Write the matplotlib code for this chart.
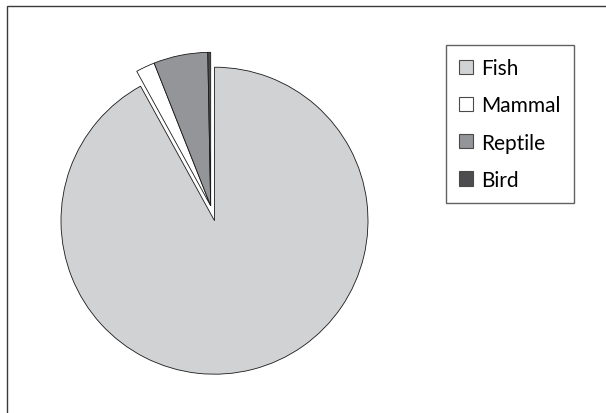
import numpy as np
import matplotlib
matplotlib.use('Agg')
import matplotlib.pyplot as plt
from matplotlib.patches import Rectangle


labels = ['Fish', 'Mammal', 'Reptile', 'Bird']
shares = [92.0, 2.0, 5.7, 0.3]
colors = ['#d1d2d4', '#ffffff', '#939598', '#4d4d4f']
# the three small classes are pulled out together, as one group
grouped = ['Mammal', 'Reptile', 'Bird']
group_explode = 0.1

plt.rcParams['font.family'] = ['Lato', 'DejaVu Sans']

fig = plt.figure(figsize=(6.06, 4.14), dpi=100)

# outer frame, only top and left edges fall inside the picture
fig.patches.append(Rectangle((7 / 606, -0.2), 1.2, 1 - 7 / 414 + 0.2,
                             transform=fig.transFigure, fill=False,
                             edgecolor='#3a3a3a', linewidth=1.0))

ax = fig.add_axes([61 / 606, 38.8 / 414, 307 / 606, 307 / 414])
wedges, _ = ax.pie(shares, colors=colors, startangle=90, counterclock=False,
                   radius=1.0,
                   wedgeprops=dict(edgecolor='#1a1a1a', linewidth=0.6))
ax.set_xlim(-1, 1)
ax.set_ylim(-1, 1)
ax.axis('off')

# shift the small wedges along the bisector of the whole group
small = sum(s for l, s in zip(labels, shares) if l in grouped)
mid = np.deg2rad(90 + small / sum(shares) * 360 / 2)
dx, dy = group_explode * np.cos(mid), group_explode * np.sin(mid)
for w, l in zip(wedges, labels):
    w.set_clip_on(False)
    if l in grouped:
        w.set_center((dx, dy))

handles = [Rectangle((0, 0), 1, 1, facecolor=c, edgecolor='#4a4a4a', linewidth=0.8)
           for c in colors]
leg = fig.legend(handles, labels, loc='upper left',
                 bbox_to_anchor=(445.7 / 606, 1 - 45.7 / 414),
                 fontsize=15, frameon=True, fancybox=False,
                 handlelength=0.68, handleheight=0.68, handletextpad=0.4,
                 labelspacing=0.83, borderpad=0.64, borderaxespad=0)
leg.get_frame().set_edgecolor('#3a3a3a')
leg.get_frame().set_linewidth(1.0)

fig.savefig('out.png', dpi=100)
